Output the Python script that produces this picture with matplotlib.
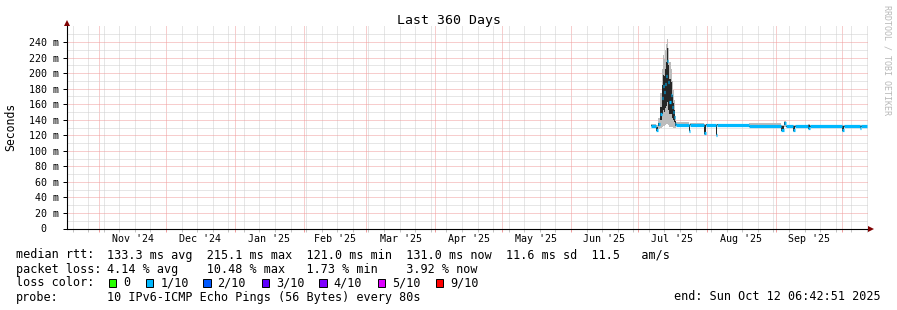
import numpy as np
import pandas as pd
import matplotlib
matplotlib.use('Agg')
import matplotlib.pyplot as plt
import matplotlib.dates as mdates
from matplotlib.ticker import FixedLocator, FuncFormatter
from matplotlib.patches import Rectangle
from matplotlib.lines import Line2D

plt.rcParams['font.family'] = ['DejaVu Sans Mono']

# --- data (ms), each value holds from its time until the next one ---
times = ['2025-07-07 00:00', '2025-07-09 03:00', '2025-07-10 06:00', '2025-07-11 00:00',
         '2025-07-11 18:00', '2025-07-12 06:00', '2025-07-12 18:00', '2025-07-13 06:00',
         '2025-07-13 18:00', '2025-07-14 06:00', '2025-07-14 18:00', '2025-07-15 06:00',
         '2025-07-15 18:00', '2025-07-16 06:00', '2025-07-16 18:00', '2025-07-17 06:00',
         '2025-07-17 18:00', '2025-07-18 06:00', '2025-07-23 20:00', '2025-07-24 12:00',
         '2025-07-31 00:00', '2025-07-31 12:00', '2025-08-05 00:00', '2025-08-05 12:00',
         '2025-08-20 00:00', '2025-09-03 12:00', '2025-09-04 16:00', '2025-09-05 12:00',
         '2025-09-09 00:00', '2025-09-09 12:00', '2025-09-15 18:00', '2025-09-16 06:00',
         '2025-10-01 00:00', '2025-10-01 12:00', '2025-10-09 00:00', '2025-10-09 12:00']
last_time = '2025-10-11 20:00'
median = [132.5, 127.0, 134.0, 147.0, 168.0, 184.0, 176.0, 186.0,
          196.0, 216.0, 188.0, 163.0, 172.0, 156.0, 150.0, 143.0,
          134.0, 133.5, 126.0, 133.3, 123.0, 133.3, 121.0, 133.3,
          131.5, 127.0, 136.0, 131.8, 126.5, 131.5, 129.0, 131.5,
          126.5, 131.5, 129.5, 131.5]
smoke_lo = [130.5, 125.0, 128.0, 130.0, 131.0, 132.0, 132.0, 133.0,
            134.0, 135.0, 133.0, 131.0, 131.0, 131.0, 130.0, 130.0,
            130.0, 132.0, 124.0, 132.0, 121.0, 132.0, 119.0, 132.0,
            130.5, 125.0, 131.0, 130.5, 124.5, 130.5, 127.5, 130.5,
            124.5, 130.5, 128.0, 130.5]
smoke_hi = [134.0, 133.0, 142.0, 175.0, 205.0, 224.0, 218.0, 230.0,
            238.0, 244.0, 232.0, 215.0, 205.0, 190.0, 178.0, 166.0,
            145.0, 137.0, 134.0, 136.0, 134.0, 135.0, 134.0, 134.5,
            135.5, 133.0, 138.0, 133.5, 133.0, 133.0, 134.0, 133.0,
            133.0, 133.0, 133.0, 133.0]
core_lo = [132.0, 126.0, 132.0, 140.0, 147.0, 152.0, 150.0, 155.0,
           158.0, 163.0, 153.0, 147.0, 148.0, 142.0, 140.0, 137.0,
           132.0, 133.0, 125.0, 133.0, 122.0, 133.0, 120.0, 133.0,
           131.0, 126.0, 133.0, 131.0, 125.5, 131.0, 128.0, 131.0,
           125.5, 131.0, 129.0, 131.0]
core_hi = [133.0, 131.0, 136.0, 156.0, 185.0, 198.0, 196.0, 205.0,
           215.0, 232.0, 210.0, 192.0, 188.0, 172.0, 162.0, 152.0,
           138.0, 134.0, 133.0, 134.0, 133.0, 134.0, 133.0, 134.0,
           132.0, 132.0, 137.0, 132.0, 132.0, 132.0, 133.0, 132.0,
           132.0, 132.0, 132.0, 132.0]

months = ["Nov '24", "Dec '24", "Jan '25", "Feb '25", "Mar '25", "Apr '25",
          "May '25", "Jun '25", "Jul '25", "Aug '25", "Sep '25"]
month_starts = ['2024-11-01', '2024-12-01', '2025-01-01', '2025-02-01', '2025-03-01',
                '2025-04-01', '2025-05-01', '2025-06-01', '2025-07-01', '2025-08-01',
                '2025-09-01', '2025-10-01']
y_major = [0, 20, 40, 60, 80, 100, 120, 140, 160, 180, 200, 220, 240]
y_minor = [10, 30, 50, 70, 90, 110, 130, 150, 170, 190, 210, 230, 250]

rtt_stats = [133.3, 215.1, 121.0, 131.0, 11.6]
am_s = 11.5
loss_stats = [4.14, 10.48, 1.73, 3.92]
loss_labels = ['0', '1/10', '2/10', '3/10', '4/10', '5/10', '9/10']
loss_colors = ['#26ff00', '#00b8ff', '#0059ff', '#5e00ff', '#7e00ff', '#dd00ff', '#ff0000']

start = pd.Timestamp('2024-10-17 06:42:51')
end = pd.Timestamp('2025-10-12 06:42:51')

# --- layout helpers (pixels from top-left) ---
W, H = 897, 310
def fx(x):
    return x / W
def fy(y):
    return 1 - y / H

fig = plt.figure(figsize=(W / 100, H / 100), dpi=100)
fig.patch.set_facecolor('white')
ax = fig.add_axes([fx(66.5), fy(228.5), 801 / W, 203.5 / H])
ax.set_facecolor('white')

edges = mdates.date2num(pd.to_datetime(times + [last_time]))
def stepped(v):
    return np.append(v, v[-1])

ax.fill_between(edges, stepped(smoke_lo), stepped(smoke_hi), step='post',
                color='#bcbcbc', lw=0)
ax.fill_between(edges, stepped(core_lo), stepped(core_hi), step='post',
                color='#262626', lw=0)
ax.hlines(median, edges[:-1], edges[1:], color=loss_colors[1], lw=2.3,
          capstyle='butt', zorder=3)

ax.set_xlim(mdates.date2num(start), mdates.date2num(end))
ax.set_ylim(0, 262)

# grid
ax.set_axisbelow(True)
ax.xaxis.set_major_locator(mdates.MonthLocator())
ax.xaxis.set_minor_locator(mdates.WeekdayLocator(byweekday=mdates.SU))
ax.yaxis.set_major_locator(FixedLocator(y_major))
ax.yaxis.set_minor_locator(FixedLocator(y_minor))
ax.grid(which='minor', color='#cfcfcf', linestyle=(0, (1, 1)), lw=0.72)
ax.grid(which='major', color='#f09c9c', linestyle=(0, (1, 1)), lw=0.72)
ax.yaxis.set_major_formatter(FuncFormatter(lambda v, p: '0  ' if v == 0 else f'{v:.0f} m'))
ax.xaxis.set_major_formatter(FuncFormatter(lambda v, p: ''))
ax.tick_params(axis='y', which='major', length=3, width=0.72, pad=2.5,
               labelsize=7.2, colors='black')
ax.tick_params(axis='y', which='minor', length=0)
ax.tick_params(axis='x', which='major', length=2, width=0.72, color='#f09c9c')
ax.tick_params(axis='x', which='minor', length=2, width=0.72, color='#c4c4c4')

for s in ['top', 'right']:
    ax.spines[s].set_visible(False)
for s in ['left', 'bottom']:
    ax.spines[s].set_linewidth(0.8)
    ax.spines[s].set_color('black')

# month labels at mid month
ms = pd.to_datetime(month_starts)
for name, a, b in zip(months, ms[:-1], ms[1:]):
    mid = mdates.date2num(a + (b - a) / 2)
    ax.text(mid, (228.5 - 241.5) / 203.5, name, transform=ax.get_xaxis_transform(),
            ha='center', va='baseline', fontsize=7.2)

# arrows
fig.add_artist(Line2D([fx(66.5)], [fy(22.5)], marker='^', ms=4.5, color='#7f0000',
                      mew=0, transform=fig.transFigure))
fig.add_artist(Line2D([fx(870.5)], [fy(228.5)], marker='>', ms=4.5, color='#7f0000',
                      mew=0, transform=fig.transFigure))

# titles
fig.text(0.5, fy(24), 'Last 360 Days', ha='center', va='baseline', fontsize=9.5)
fig.text(fx(11), fy(126.5), 'Seconds', rotation=90, ha='center', va='center', fontsize=8.3)
fig.text(fx(887), fy(5), 'RRDTOOL / TOBI OETIKER', rotation=270, ha='center', va='top',
         fontsize=6, color='#b8b8b8')

# legend
fs = 8.5
col = 107.3
fig.text(fx(16), fy(258.5), 'median rtt:', fontsize=fs, va='baseline')
fig.text(fx(col), fy(258.5),
         f'{rtt_stats[0]:.1f} ms avg  {rtt_stats[1]:.1f} ms max  {rtt_stats[2]:.1f} ms min  '
         f'{rtt_stats[3]:.1f} ms now  {rtt_stats[4]:.1f} ms sd  {am_s:.1f}   am/s',
         fontsize=fs, va='baseline')
fig.text(fx(16), fy(272.5), 'packet loss:', fontsize=fs, va='baseline')
fig.text(fx(col), fy(272.5),
         f'{loss_stats[0]:.2f} % avg    {loss_stats[1]:.2f} % max   '
         f'{loss_stats[2]:.2f} % min    {loss_stats[3]:.2f} % now',
         fontsize=fs, va='baseline')
fig.text(fx(16), fy(286.5), 'loss color:', fontsize=fs, va='baseline')
box_x = [108.7, 145.7, 203.0, 261.7, 319.0, 377.7, 435.7]
for bx, lab, c in zip(box_x, loss_labels, loss_colors):
    fig.add_artist(Rectangle((fx(bx), fy(286.5)), 7.5 / W, 8 / H, transform=fig.transFigure,
                             facecolor=c, edgecolor='black', lw=0.7))
    fig.text(fx(bx + 14.6), fy(286.5), lab, fontsize=fs, va='baseline')
fig.text(fx(16), fy(300.5), 'probe:', fontsize=fs, va='baseline')
fig.text(fx(col), fy(300.5), '10 IPv6-ICMP Echo Pings (56 Bytes) every 80s',
         fontsize=fs, va='baseline')
fig.text(fx(880.5), fy(300.5), 'end: Sun Oct 12 06:42:51 2025', fontsize=fs,
         va='baseline', ha='right')

fig.savefig('out.png', dpi=100, facecolor='white')
